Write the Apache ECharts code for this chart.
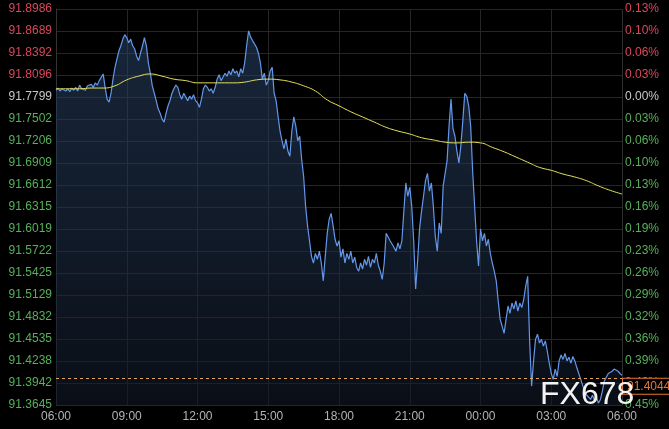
<!DOCTYPE html>
<html>
<head>
<meta charset="utf-8">
<script src="https://cdn.jsdelivr.net/npm/echarts@6/dist/echarts.min.js"></script>
<style>
html,body{margin:0;padding:0;background:#000;}
#c{width:669px;height:429px;}
</style>
</head>
<body>
<div id="c"></div>
<script>
// time axis labels (every 3 hours; data is in 5-minute slots, 36 slots = 3h)
const timeLabels = ['06:00','09:00','12:00','15:00','18:00','21:00','00:00','03:00','06:00'];
// price tick labels (left axis)
const priceTicks = ['91.8986','91.8689','91.8392','91.8096','91.7799','91.7502','91.7206','91.6909','91.6612','91.6315','91.6019','91.5722','91.5425','91.5129','91.4832','91.4535','91.4238','91.3942','91.3645'];
// percent tick labels (right axis)
const pctTicks = ['0.13%','0.10%','0.06%','0.03%','0.00%','0.03%','0.06%','0.10%','0.13%','0.16%','0.19%','0.23%','0.26%','0.29%','0.32%','0.36%','0.39%','0.42%','0.45%'];
const prevClose = 91.7799;
const lastPrice = 91.4044;
const watermark = 'FX678';

// price every 5 minutes from 06:00 to 06:00
const prices = [
91.789,91.792,91.788,91.791,91.793,91.788,91.791,91.787,91.792,91.789,91.793,91.788,
91.796,91.791,91.793,91.789,91.795,91.793,91.797,91.793,91.799,91.796,91.802,91.804,
91.811,91.793,91.777,91.773,91.785,91.804,91.820,91.831,91.842,91.849,91.858,91.864,
91.860,91.853,91.858,91.849,91.845,91.835,91.829,91.839,91.849,91.860,91.849,91.826,
91.812,91.795,91.785,91.775,91.764,91.758,91.750,91.746,91.758,91.768,91.775,91.785,
91.791,91.796,91.793,91.783,91.777,91.785,91.780,91.775,91.781,91.777,91.783,91.775,
91.772,91.766,91.777,91.791,91.796,91.793,91.788,91.791,91.785,91.793,91.804,91.810,
91.802,91.807,91.812,91.808,91.815,91.810,91.818,91.812,91.815,91.807,91.818,91.812,
91.826,91.849,91.869,91.861,91.856,91.858,91.847,91.839,91.826,91.804,91.812,91.796,
91.802,91.815,91.820,91.785,91.775,91.754,91.734,91.721,91.710,91.723,91.707,91.700,
91.734,91.753,91.741,91.721,91.727,91.696,91.673,91.633,91.606,91.586,91.565,91.556,
91.569,91.561,91.572,91.556,91.532,91.565,91.596,91.615,91.623,91.606,91.588,91.579,
91.586,91.564,91.575,91.556,91.569,91.561,91.572,91.556,91.564,91.550,91.545,91.556,
91.548,91.561,91.553,91.565,91.550,91.561,91.556,91.569,91.553,91.545,91.534,91.556,
91.596,91.591,91.586,91.588,91.577,91.572,91.583,91.575,91.586,91.626,91.664,91.646,
91.658,91.633,91.586,91.521,91.559,91.602,91.626,91.646,91.667,91.677,91.653,91.664,
91.633,91.592,91.572,91.610,91.596,91.660,91.677,91.694,91.741,91.777,91.737,91.727,
91.707,91.691,91.714,91.748,91.785,91.781,91.768,91.741,91.680,91.633,91.586,91.552,
91.602,91.586,91.596,91.579,91.588,91.569,91.556,91.545,91.532,91.505,91.480,91.471,
91.461,91.480,91.498,91.488,91.502,91.494,91.505,91.491,91.502,91.496,91.507,91.525,
91.538,91.451,91.390,91.424,91.453,91.460,91.448,91.453,91.444,91.451,91.437,91.421,
91.407,91.399,91.413,91.403,91.424,91.432,91.426,91.434,91.424,91.429,91.421,91.430,
91.424,91.415,91.407,91.399,91.391,91.383,91.378,91.380,91.372,91.378,91.370,91.375,
91.367,91.372,91.383,91.397,91.402,91.407,91.405,91.410,91.413,91.415,91.410,91.407,91.4044
];

// moving average, every 30 minutes
const avgLine = [
91.791,91.791,91.791,91.792,91.792,91.795,91.803,91.808,91.811,91.808,
91.804,91.802,91.799,91.799,91.799,91.799,91.800,91.803,91.804,91.803,
91.800,91.795,91.788,91.776,91.768,91.760,91.753,91.746,91.739,91.734,
91.730,91.725,91.722,91.719,91.718,91.719,91.718,91.712,91.706,91.699,
91.692,91.685,91.681,91.676,91.672,91.667,91.660,91.654,91.649
];

const SLOTS_PER_LABEL = 36;
const AVG_STEP = 6;
const tickVals = priceTicks.map(Number);

const red = '#d9475c', green = '#57b05a', neutral = '#c8c8c8';
function levelColor(v){
  if (Math.abs(v - prevClose) < 0.00005) return neutral;
  return v > prevClose ? red : green;
}
function nearestIdx(v){
  let best = 0, bd = Infinity;
  tickVals.forEach((t,i)=>{const d=Math.abs(t-v); if(d<bd){bd=d;best=i;}});
  return best;
}

const chart = echarts.init(document.getElementById('c'), null, {renderer:'canvas'});
const font = '"Liberation Sans", Arial, sans-serif';
const gridColor = '#262626';

chart.setOption({
  animation: false,
  backgroundColor: '#000',
  grid: {left: 56, right: 47, top: 9, bottom: 24, containLabel: false},
  xAxis: {
    type: 'value', min: 0, max: (timeLabels.length-1)*SLOTS_PER_LABEL, interval: SLOTS_PER_LABEL,
    axisLine: {show: false}, axisTick: {show: false},
    splitLine: {show: true, lineStyle: {color: gridColor, width: 1}},
    axisLabel: {
      color: '#b4b4b4', fontSize: 12, fontFamily: font, margin: 6,
      showMinLabel: true, showMaxLabel: true,
      formatter: v => timeLabels[Math.round(v/SLOTS_PER_LABEL)]
    }
  },
  yAxis: [{
    type: 'value', min: tickVals[tickVals.length-1], max: tickVals[0], position: 'left',
    axisLine: {show: true, lineStyle: {color: '#333'}}, 
    axisTick: {show: false, customValues: tickVals},
    splitLine: {show: true, lineStyle: {color: gridColor, width: 1}},
    axisLabel: {
      customValues: tickVals, fontSize: 12, fontFamily: font, margin: 4,
      formatter: v => priceTicks[nearestIdx(v)],
      color: v => levelColor(tickVals[nearestIdx(v)])
    }
  },{
    type: 'value', min: tickVals[tickVals.length-1], max: tickVals[0], position: 'right',
    axisLine: {show: true, lineStyle: {color: '#333', type: 'dotted'}},
    axisTick: {show: false, customValues: tickVals},
    splitLine: {show: false},
    axisLabel: {
      customValues: tickVals, fontSize: 12, fontFamily: font, margin: 3,
      formatter: v => pctTicks[nearestIdx(v)],
      color: v => levelColor(tickVals[nearestIdx(v)])
    }
  }],
  series: [{
    type: 'line', name: 'price',
    data: prices.map((v,i)=>[i, v]),
    showSymbol: false, symbol: 'none',
    lineStyle: {color: '#6497ea', width: 1.2},
    areaStyle: {
      origin: 'start',
      color: new echarts.graphic.LinearGradient(0,0,0,1,[
        {offset:0, color:'rgba(45,72,110,0.75)'},
        {offset:1, color:'rgba(16,24,38,0.85)'}
      ])
    },
    z: 2,
    markLine: {
      silent: true, symbol: 'none', animation: false,
      lineStyle: {color: '#e5a35f', type: [3,3], width: 1},
      label: {
        show: true, position: 'end', formatter: () => lastPrice.toFixed(4),
        color: '#e8762f', fontSize: 12, fontFamily: font,
        backgroundColor: '#000', borderColor: '#e8762f', borderWidth: 1,
        padding: [2, 4, 1, 4], distance: 1, verticalAlign: 'top'
      },
      data: [{yAxis: lastPrice}]
    }
  },{
    type: 'line', name: 'avg',
    data: avgLine.map((v,k)=>[k*AVG_STEP, v]),
    smooth: true, showSymbol: false, symbol: 'none',
    lineStyle: {color: '#e6e35a', width: 1},
    z: 3
  }],
  graphic: [{
    type: 'text', left: 540, bottom: 18, z: 100,
    style: {text: watermark, fill: '#f2f2f2', font: '32px "Liberation Sans", Arial, sans-serif'}
  }]
});
</script>
</body>
</html>
